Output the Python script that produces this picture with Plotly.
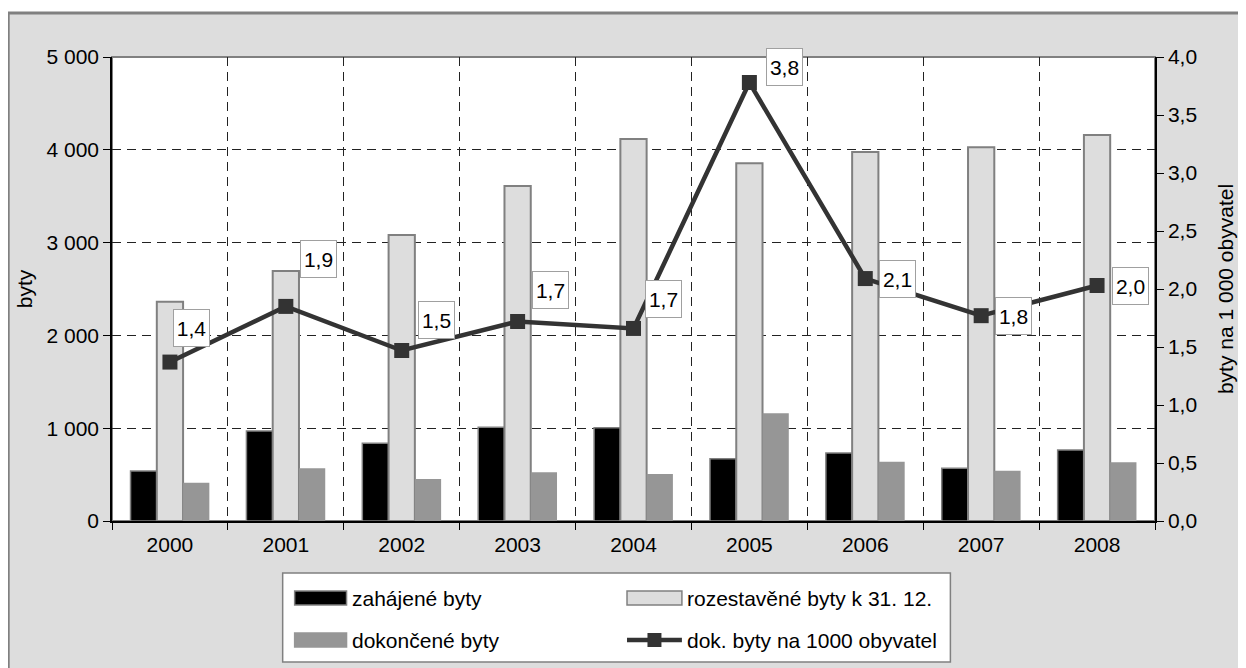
import plotly.graph_objects as go

# ---------------- data ----------------
years = ["2000", "2001", "2002", "2003", "2004", "2005", "2006", "2007", "2008"]
zahajene = [539, 970, 837, 1010, 1005, 671, 733, 568, 765]
rozestavene = [2363, 2694, 3082, 3610, 4116, 3855, 3976, 4027, 4160]
dokoncene = [413, 568, 453, 525, 506, 1160, 639, 542, 632]
na_1000 = [1.37, 1.85, 1.47, 1.72, 1.66, 3.78, 2.09, 1.77, 2.03]

series_names = ["zahájené byty", "rozestavěné byty k 31. 12.",
                "dokončené byty", "dok. byty na 1000 obyvatel"]
left_ticks = [0, 1000, 2000, 3000, 4000, 5000]
right_ticks = [0.0, 0.5, 1.0, 1.5, 2.0, 2.5, 3.0, 3.5, 4.0]
left_title = "byty"
right_title = "byty na 1 000 obyvatel"

# ---------------- style / layout ----------------
FONT = "Liberation Sans, Arial, sans-serif"
FS = 21
OFF = 8  # page body margin
W, H = 1246 - OFF, 668 - OFF
ML, MR, MT, MB = 112 - OFF, 89, 57 - OFF, 147
PW, PH = W - ML - MR, H - MT - MB

def fx(px):
    # screen pixel -> paper fraction
    return (px - OFF - ML) / PW

def fy(py):
    return (H - MB - (py - OFF)) / PH

label_shift = [(22, 34), (33, 47), (35, 30), (33, 31), (30, 29),
               (35, 16), (32, 0), (32, 0), (33, 0)]

c_black = "#000000"
c_light = "#dddddd"
c_dark = "#969696"
c_line = "#333333"
c_edge = "#808080"

fig = go.Figure()
fig.add_trace(go.Bar(x=years, y=zahajene, name=series_names[0],
                     marker=dict(color=c_black, line=dict(color=c_edge, width=1.5)),
                     showlegend=False))
fig.add_trace(go.Bar(x=years, y=rozestavene, name=series_names[1],
                     marker=dict(color=c_light, line=dict(color=c_edge, width=2)),
                     showlegend=False))
fig.add_trace(go.Bar(x=years, y=dokoncene, name=series_names[2],
                     marker=dict(color=c_dark, line=dict(color=c_dark, width=0)),
                     showlegend=False))
fig.add_trace(go.Scatter(x=years, y=na_1000, name=series_names[3], yaxis="y2",
                         mode="lines+markers",
                         line=dict(color=c_line, width=4.5),
                         marker=dict(symbol="square", size=15, color=c_line),
                         showlegend=False))

annotations = []
for i, (v, (dx, dy)) in enumerate(zip(na_1000, label_shift)):
    annotations.append(dict(
        x=i, y=v, xref="x", yref="y2", text=f"{v:.1f}".replace(".", ","),
        showarrow=False, xshift=dx, yshift=dy, width=31, height=32,
        font=dict(family=FONT, size=FS, color="#000"),
        bgcolor="white", bordercolor="#a0a0a0", borderwidth=1, borderpad=2))

shapes = []
# outer frame
shapes.append(dict(type="rect", xref="paper", yref="paper",
                   x0=fx(8), x1=fx(1262), y0=fy(690), y1=fy(13),
                   fillcolor="#dddddd", line=dict(color=c_edge, width=3), layer="below"))
# plot area
shapes.append(dict(type="rect", xref="paper", yref="paper",
                   x0=0, x1=1, y0=0, y1=1,
                   fillcolor="white", line=dict(color=c_edge, width=2), layer="below"))
# legend box
shapes.append(dict(type="rect", xref="paper", yref="paper",
                   x0=fx(283), x1=fx(952), y0=fy(662), y1=fy(573),
                   fillcolor="white", line=dict(color=c_edge, width=1.5), layer="below"))

# legend entries (manual, to match wide swatches)
rows = [598, 640]
cols = [(295, 347), (628, 683)]
entries = [
    (0, 0, "bar", c_black, c_edge),
    (1, 0, "bar", c_light, c_edge),
    (0, 1, "bar", c_dark, c_dark),
    (1, 1, "line", c_line, c_line),
]
for i, (ci, ri, kind, fc, lc) in enumerate(entries):
    x0, x1 = cols[ci]
    yc = rows[ri]
    if kind == "bar":
        shapes.append(dict(type="rect", xref="paper", yref="paper",
                           x0=fx(x0), x1=fx(x1), y0=fy(yc + 7), y1=fy(yc - 7),
                           fillcolor=fc, line=dict(color=lc, width=1.5), layer="above"))
    else:
        shapes.append(dict(type="line", xref="paper", yref="paper",
                           x0=fx(x0), x1=fx(x1), y0=fy(yc), y1=fy(yc),
                           line=dict(color=fc, width=4.5), layer="above"))
        shapes.append(dict(type="rect", xref="paper", yref="paper",
                           x0=fx((x0 + x1) / 2 - 7), x1=fx((x0 + x1) / 2 + 7),
                           y0=fy(yc + 7), y1=fy(yc - 7),
                           fillcolor=fc, line=dict(color=fc, width=0), layer="above"))
    annotations.append(dict(x=fx(x1 + 3), y=fy(yc), xref="paper", yref="paper",
                            xanchor="left", yanchor="middle", showarrow=False,
                            text=series_names[i],
                            font=dict(family=FONT, size=FS, color="#000")))

grid_dash = "9px,6px"
fig.update_layout(
    width=W, height=H,
    margin=dict(l=ML, r=MR, t=MT, b=MB, pad=0),
    paper_bgcolor="white", plot_bgcolor="white",
    separators=", ",
    font=dict(family=FONT, size=FS, color="#000"),
    barmode="group", bargap=0.32, bargroupgap=0,
    showlegend=False,
    xaxis=dict(type="category", range=[-0.5, len(years) - 0.5], autorange=False,
               showline=True, linecolor="#000", linewidth=1.5,
               ticks="outside", ticklen=7, tickcolor="#000", tickson="boundaries",
               showgrid=True, gridcolor="#222", gridwidth=1, griddash=grid_dash,
               tickfont=dict(size=FS), tickangle=0, zeroline=False,
               ticklabelstandoff=4),
    yaxis=dict(range=[0, 5000], tickvals=left_ticks, tickformat=",d",
               showline=True, linecolor="#000", linewidth=1.5,
               ticks="outside", ticklen=7, tickcolor="#000",
               showgrid=True, gridcolor="#222", gridwidth=1, griddash=grid_dash,
               zeroline=False, tickfont=dict(size=FS),
               title=dict(text=left_title, standoff=8, font=dict(size=FS))),
    yaxis2=dict(range=[0, 4], tickvals=right_ticks, tickformat=".1f",
                overlaying="y", side="right",
                showline=True, linecolor="#000", linewidth=1.5,
                ticks="outside", ticklen=7, tickcolor="#000",
                showgrid=False, zeroline=False, tickfont=dict(size=FS),
                title=dict(text=right_title, standoff=22, font=dict(size=FS))),
    shapes=shapes,
    annotations=annotations,
)

fig.write_html("out.html")
